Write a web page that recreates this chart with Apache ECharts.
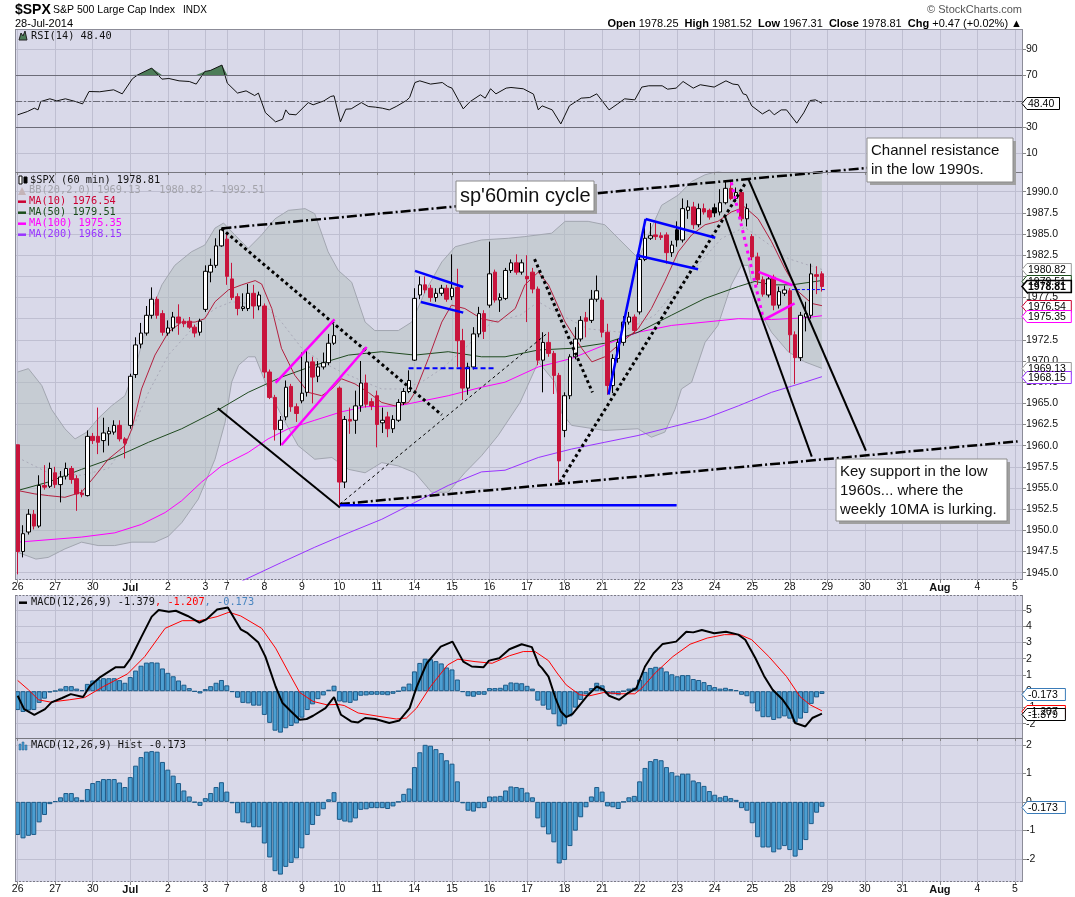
<!DOCTYPE html>
<html lang="en">
<head>
<meta charset="utf-8">
<title>$SPX 60 min</title>
<script src="https://cdn.jsdelivr.net/npm/echarts@6/dist/echarts.min.js"></script>
<style>
  html, body { margin: 0; padding: 0; background: #fff; }
  #chart { width: 1075px; height: 897px; }
</style>
</head>
<body>
<div id="chart"></div>
<script>
// ---- x axis: one slot per 60 min bar, day labels at first bar of each day
var dayStarts = [0, 7, 14, 21, 28, 35, 39, 46, 53, 60, 67, 74, 81, 88, 95, 102, 109, 116, 123, 130, 137, 144, 151, 158, 165, 172, 179, 186];
var dayLabels = ['26', '27', '30', 'Jul', '2', '3', '7', '8', '9', '10', '11', '14', '15', '16', '17', '18', '21', '22', '23', '24', '25', '28', '29', '30', '31', 'Aug', '4', '5'];

// ---- tick labels
var priceTicks = [1945, 1947.5, 1950, 1952.5, 1955, 1957.5, 1960, 1962.5, 1965, 1967.5, 1970, 1972.5, 1975, 1977.5, 1980, 1982.5, 1985, 1987.5, 1990];
var rsiTicks = [10, 30, 50, 70, 90];
var rsiLabels = [10, 30, 70, 90];
var macdTicks = [-2, -1, 0, 1, 2, 3, 4, 5];
var histTicks = [-2, -1, 0, 1, 2];

// ---- hourly candles [open, close, low, high]
var candles = [
  [1960.1,1947.5,1944.8,1960.1],[1947.5,1949.6,1946.8,1950.6],[1949.8,1951.9,1949.5,1952.5],[1951.9,1950.5,1950.1,1952.4],[1950.5,1955.3,1950.3,1956.5],[1955.3,1955.1,1954.8,1957.7],[1955.2,1957.3,1955.0,1958.0],
  [1956.8,1955.4,1955.0,1957.5],[1955.4,1956.3,1953.3,1957.0],[1956.4,1957.3,1956.0,1958.0],[1957.3,1956.0,1955.5,1957.6],[1956.1,1954.3,1952.3,1956.5],[1954.4,1954.2,1953.9,1954.8],[1954.1,1961.1,1954.0,1961.8],
  [1961.1,1960.6,1960.2,1961.5],[1961.1,1960.4,1959.0,1964.5],[1960.6,1961.5,1959.2,1963.3],[1961.4,1961.7,1960.0,1962.2],[1961.6,1962.4,1961.3,1963.0],[1962.4,1960.8,1960.5,1963.0],[1960.8,1960.3,1958.5,1961.0],
  [1962.4,1968.2,1962.0,1968.5],[1968.4,1971.9,1968.0,1972.8],[1972.0,1973.3,1971.5,1974.5],[1973.3,1975.4,1973.0,1976.5],[1975.4,1977.3,1975.0,1978.7],[1977.3,1975.4,1975.0,1977.6],[1975.6,1973.4,1973.0,1976.0],
  [1973.3,1973.9,1973.0,1974.8],[1973.9,1975.2,1973.5,1975.8],[1975.2,1974.5,1973.1,1976.7],[1974.7,1974.4,1974.0,1975.0],[1974.7,1974.0,1973.8,1975.2],[1974.0,1973.3,1972.8,1974.3],[1973.4,1974.7,1973.0,1975.0],
  [1976.1,1980.6,1975.8,1981.3],[1980.5,1981.3,1979.3,1982.1],[1981.3,1983.6,1981.0,1984.5],[1983.6,1985.5,1983.5,1985.6],
  [1984.4,1980.0,1979.0,1985.0],[1979.7,1977.5,1977.2,1981.6],[1977.6,1976.2,1975.4,1978.0],[1976.2,1976.4,1975.9,1978.0],[1976.2,1978.0,1975.9,1979.1],[1978.0,1976.5,1975.0,1979.0],[1976.5,1977.8,1976.0,1978.2],
  [1976.5,1968.7,1968.0,1976.8],[1968.7,1965.7,1965.5,1969.0],[1965.7,1961.9,1960.6,1966.0],[1961.9,1963.0,1960.0,1963.5],[1963.4,1966.9,1963.0,1967.7],[1967.0,1964.6,1964.0,1967.3],[1964.6,1963.8,1962.8,1965.0],
  [1965.3,1966.2,1965.0,1971.0],[1966.3,1969.9,1965.8,1971.2],[1969.9,1968.1,1965.0,1970.5],[1968.2,1969.3,1967.5,1970.0],[1969.3,1969.8,1969.0,1971.0],[1969.8,1972.1,1969.5,1973.2],[1972.1,1973.0,1971.9,1974.4],
  [1966.8,1955.7,1952.9,1967.0],[1955.7,1963.1,1955.0,1963.5],[1963.1,1962.9,1961.4,1964.5],[1963.0,1964.7,1961.4,1966.5],[1964.7,1967.4,1964.0,1970.0],[1967.4,1964.9,1964.5,1968.4],[1965.2,1964.7,1964.2,1965.6],
  [1965.9,1962.5,1959.8,1966.5],[1962.7,1963.0,1961.5,1964.5],[1963.4,1962.0,1961.0,1964.0],[1962.0,1963.1,1961.5,1963.6],[1963.0,1965.1,1962.8,1965.5],[1965.1,1966.4,1964.8,1966.8],[1966.4,1967.7,1966.2,1968.9],
  [1970.1,1977.4,1970.0,1978.6],[1977.8,1979.0,1977.3,1980.0],[1979.0,1978.4,1978.0,1980.0],[1978.6,1977.5,1977.0,1979.0],[1977.5,1978.0,1977.0,1978.6],[1978.0,1978.6,1977.7,1979.0],[1978.6,1977.3,1977.0,1979.0],
  [1977.6,1978.6,1977.2,1982.6],[1978.7,1972.4,1969.3,1980.9],[1972.4,1966.8,1965.4,1973.8],[1966.8,1969.3,1966.0,1969.8],[1969.3,1973.2,1969.0,1974.0],[1973.2,1975.6,1972.8,1976.4],[1975.6,1973.5,1972.6,1976.0],
  [1976.6,1980.3,1976.3,1984.1],[1980.5,1977.2,1976.9,1980.8],[1977.2,1977.5,1975.8,1978.0],[1977.4,1980.7,1977.2,1981.0],[1980.7,1981.6,1980.4,1982.0],[1981.6,1980.5,1980.2,1982.6],[1980.5,1981.6,1980.2,1982.0],
  [1980.0,1979.7,1974.6,1982.5],[1980.5,1978.5,1978.0,1981.0],[1978.5,1970.1,1969.5,1978.8],[1970.1,1972.2,1966.3,1973.4],[1972.2,1970.9,1970.5,1973.4],[1970.9,1968.3,1966.1,1971.2],[1968.3,1958.2,1955.7,1968.6],
  [1961.8,1965.9,1961.0,1966.3],[1965.9,1970.5,1965.5,1970.8],[1970.5,1972.6,1970.2,1974.0],[1972.6,1974.8,1972.3,1975.3],[1975.1,1974.7,1972.8,1975.8],[1974.8,1977.3,1974.5,1978.4],[1977.3,1978.3,1977.0,1980.1],
  [1977.2,1973.4,1972.8,1977.5],[1973.4,1967.1,1966.0,1974.4],[1967.1,1970.3,1966.2,1970.8],[1970.3,1972.2,1969.8,1972.6],[1972.2,1974.6,1971.8,1975.3],[1974.6,1975.2,1974.3,1975.8],[1975.2,1973.6,1973.2,1975.5],
  [1975.8,1982.0,1975.5,1982.6],[1982.0,1984.5,1981.8,1986.6],[1984.5,1984.8,1984.3,1986.3],[1984.9,1984.7,1984.3,1986.3],[1984.8,1984.6,1984.3,1985.2],[1984.9,1982.8,1981.5,1985.2],[1982.8,1983.7,1982.3,1984.2],
  [1985.5,1984.3,1983.5,1986.5],[1984.3,1988.0,1984.0,1989.2],[1987.8,1988.2,1986.8,1989.0],[1988.2,1986.1,1985.6,1988.8],[1986.1,1988.0,1985.8,1988.6],[1988.0,1987.6,1987.3,1988.6],[1987.8,1987.0,1986.7,1988.0],
  [1988.1,1987.5,1987.0,1988.6],[1987.6,1988.7,1987.2,1990.3],[1988.7,1990.4,1988.5,1991.2],[1990.4,1989.2,1989.0,1991.4],[1989.2,1989.9,1988.8,1990.5],[1989.9,1986.8,1986.5,1990.2],[1986.8,1988.0,1985.9,1988.6],
  [1984.7,1982.3,1981.9,1985.0],[1982.3,1979.6,1979.0,1982.8],[1979.6,1977.9,1977.6,1980.0],[1977.8,1979.7,1977.5,1980.0],[1979.9,1976.6,1976.0,1980.2],[1976.6,1978.2,1976.2,1978.8],[1978.0,1978.4,1977.7,1978.9],
  [1978.3,1973.1,1971.0,1978.6],[1973.1,1970.4,1967.3,1973.5],[1970.4,1975.4,1970.0,1975.8],[1975.2,1975.6,1973.5,1977.0],[1975.4,1980.3,1975.0,1981.5],[1980.2,1980.0,1977.9,1981.2],[1980.3,1978.8,1978.2,1980.6]
];

// ---- overlays, [bar, value]
var ma10 = [[0,1954.7],[3.2,1954.3],[5.7,1954.1],[8.8,1953.9],[11.9,1954.5],[14.4,1956.4],[16.9,1958.4],[20,1960.0],[21.3,1962.0],[23.1,1966.7],[25.6,1970.7],[28.1,1973.4],[30.6,1974.6],[33.1,1974.6],[34.9,1975.0],[36.8,1977.0],[39.3,1978.4],[41.8,1979.0],[44.3,1979.5],[45.5,1979.1],[47.4,1976.2],[49.2,1971.5],[51.7,1968.3],[54.2,1966.3],[56.7,1965.9],[58.6,1966.7],[60.4,1967.9],[62.9,1967.3],[65.4,1966.3],[67.9,1965.1],[70.4,1964.7],[72.9,1965.1],[74.1,1966.3],[76.6,1970.3],[79.1,1974.6],[80.9,1976.6],[83.4,1976.2],[86.5,1975.0],[89.6,1974.6],[92.8,1976.2],[94.6,1979.0],[97.1,1980.5],[99,1979.0],[102.1,1974.6],[105.2,1971.5],[107.1,1969.9],[109.5,1970.5],[112.6,1972.2],[115.7,1973.8],[118.2,1976.2],[120.7,1979.4],[123.2,1982.9],[125.7,1984.9],[128.2,1986.1],[130.6,1986.5],[133.1,1987.6],[135.6,1988.2],[138.1,1986.8],[140.6,1984.1],[143.1,1980.9],[145.6,1978.2],[148.1,1976.8],[150,1976.54]];
var ma50 = [[0,1954.7],[5.7,1955.7],[11.9,1957.2],[18.1,1958.6],[24.4,1960.4],[30.6,1962.0],[36.8,1964.0],[43,1966.3],[49.2,1968.1],[55.4,1969.5],[61.7,1970.7],[67.9,1971.1],[74.1,1970.7],[80.3,1971.1],[86.5,1970.5],[90.9,1970.5],[97.1,1971.3],[103.3,1971.5],[109.5,1972.1],[115.7,1973.4],[121.9,1975.4],[128.2,1977.4],[134.4,1978.8],[137.5,1979.4],[140.6,1979.0],[144.4,1979.0],[150,1979.51]];
var ma100 = [[0,1948.6],[11.9,1949.2],[18.1,1949.7],[23.1,1950.7],[27.5,1952.1],[30.6,1953.5],[34.3,1955.7],[38,1957.6],[43,1959.2],[46.7,1960.8],[50.5,1962.0],[55.4,1963.0],[60.4,1964.0],[64.8,1964.6],[71,1964.7],[74.1,1965.1],[80.3,1965.9],[86.5,1966.9],[90.9,1967.5],[97.1,1969.3],[103.3,1970.3],[109.5,1971.9],[115.7,1973.4],[121.9,1974.2],[128.2,1974.6],[134.4,1975.0],[140.6,1974.9],[146.8,1975.1],[150,1975.35]];
var ma200 = [[41.8,1944.0],[49.2,1946.2],[55.4,1948.0],[61.7,1949.7],[67.9,1951.3],[74.1,1953.3],[80.3,1955.3],[86.5,1956.9],[90.9,1957.1],[97.1,1958.6],[103.3,1959.6],[109.5,1960.4],[115.7,1961.2],[121.9,1962.2],[128.2,1963.2],[134.4,1964.7],[140.6,1966.3],[146.8,1967.5],[150,1968.15]];
var bbUpper = [[0,1968.7],[2,1969.1],[4.5,1967.1],[6.3,1964.3],[8.8,1962.0],[10.7,1960.8],[12.9,1961.6],[15,1963.2],[17.5,1964.7],[20,1965.9],[21.9,1969.1],[24.4,1975.0],[26.9,1979.0],[29.3,1981.3],[32.4,1982.9],[34.9,1983.7],[36.8,1985.7],[38.4,1986.3],[40.5,1984.9],[43,1983.3],[45.5,1984.9],[48,1986.8],[50.5,1987.8],[53.6,1988.0],[55.4,1987.4],[57.9,1982.9],[59.8,1980.7],[62.3,1979.3],[64.8,1974.6],[66.6,1973.6],[71,1973.6],[73.5,1974.6],[76,1978.2],[79.1,1981.7],[81.6,1983.5],[86.5,1984.3],[91.5,1984.5],[94.6,1984.7],[99.6,1985.1],[102.1,1986.5],[106.4,1986.5],[109.5,1986.1],[112,1984.5],[115.8,1982.1],[118.2,1985.7],[120.1,1988.4],[123.2,1989.6],[125.7,1991.2],[128.2,1992.0],[132,1992.6],[137,1992.8],[142,1992.8],[146,1992.7],[150,1992.51]];
var bbMid = [[0,1958.6],[5.7,1956.8],[11.9,1956.5],[16.9,1957.3],[20,1960.0],[24.4,1966.3],[28.1,1970.7],[33.1,1974.2],[36.8,1976.2],[39.9,1977.0],[43,1976.8],[46.7,1976.2],[49.2,1974.6],[53,1971.5],[56.7,1969.9],[60.4,1968.7],[64.8,1967.5],[67.9,1966.7],[71.6,1966.7],[75.3,1967.5],[79.1,1969.1],[83.4,1971.5],[88.4,1974.6],[93.7,1975.4],[97.1,1977.0],[101.4,1975.4],[106.4,1973.8],[112.6,1973.4],[118.8,1975.4],[125.1,1980.1],[131.3,1984.5],[135.6,1985.8],[139.4,1984.1],[143.7,1982.1],[150,1980.82]];
var bbLower = [[0,1947.4],[3.4,1946.6],[5.7,1946.8],[8.8,1947.8],[11.9,1948.6],[15,1948.2],[18.1,1948.2],[21.3,1948.6],[25.6,1948.6],[28.1,1949.3],[30.6,1950.9],[33.7,1953.7],[36.8,1958.4],[38.7,1962.8],[39.9,1967.5],[41.2,1969.5],[43,1970.5],[44.3,1970.5],[46.7,1966.7],[49.2,1963.6],[52.3,1960.0],[55.4,1958.4],[58.6,1958.6],[61.7,1957.2],[64.8,1956.8],[67.9,1958.0],[71,1957.6],[74.1,1956.8],[77.2,1954.5],[80.3,1954.5],[83.4,1956.8],[86.5,1958.8],[89.6,1961.2],[93.7,1965.1],[97.1,1969.9],[100.2,1967.5],[101.4,1963.9],[103.3,1962.4],[109.5,1961.8],[115.7,1962.0],[118.2,1961.0],[120.7,1961.6],[122.6,1964.3],[123.8,1966.7],[125.7,1967.5],[128.2,1972.2],[130.6,1974.2],[133.1,1979.0],[135,1981.3],[136.3,1981.3],[137.5,1977.0],[140.6,1973.4],[143.7,1971.1],[146.8,1969.9],[150,1969.13]];

// ---- RSI(14)
var rsi = [[0,39.5],[1.8,42],[3.1,44.6],[3.8,43.3],[4.3,49.7],[6,51.8],[7.3,50.2],[8.9,51.8],[10.8,49.7],[12.1,47.9],[13.3,57.4],[15.3,57.2],[17.9,58.7],[19.5,55.6],[21.4,67.2],[22.4,70.2],[25,75.4],[26.9,66.9],[28.2,67.4],[30.1,65.6],[32,65.1],[33.3,63.1],[34.9,72.8],[35.9,73.5],[38.1,77.7],[39.1,63.8],[41,56.2],[42.6,57.9],[44.2,54.3],[44.9,56.2],[46.2,41.2],[48.1,34.1],[49.4,36.1],[50,43.3],[50.6,40],[51.9,39.5],[54.2,48.9],[55.1,47.2],[57.1,50.2],[58.4,53.6],[59,54.1],[60.2,34.1],[61.2,43.8],[62.2,44.1],[64.1,48.9],[65.4,45.9],[66.7,45.4],[68,44.6],[69.3,43.3],[70.6,45.9],[72.5,50.5],[73.1,52.8],[74.1,64.3],[75,65.6],[77,63.1],[79.2,64.3],[80.2,61.3],[81,60],[83.1,44.1],[84.4,49.7],[86.3,54.9],[87.2,52.3],[88.2,59.5],[89.2,55.6],[91.1,60],[92,60.5],[94.3,59.5],[96.2,55.4],[97.1,43.3],[97.8,46.4],[99.7,43.3],[101.3,32.5],[102.9,46.4],[105.1,52.3],[106.7,52.8],[108,55.6],[110.3,43.3],[111.9,47.9],[113.2,51.8],[115.1,51],[116.4,60.8],[117.7,61.8],[120.2,61.8],[121.2,59.2],[122.8,60],[124.1,65.1],[126,60],[127.3,62.6],[129.9,60.8],[132.1,65.6],[133.4,63.1],[134.4,62.6],[135.3,55.6],[135.9,54.9],[136.9,46.4],[138.9,40.2],[140.2,43.3],[141.1,39.5],[142.4,43.3],[143.4,43.3],[145.3,33.1],[146.6,41],[147.8,50.5],[148.8,51],[150,48.4]];

// ---- MACD(12,26,9)
var macdLine = [[0,-0.28],[1.2,-1.1],[3.1,-1.45],[5.1,-1.1],[6.3,-0.69],[8.3,-0.42],[9.9,-0.18],[12.2,-0.36],[13.4,0.29],[15.4,0.87],[18.3,1.48],[19.9,1.48],[21.1,2.03],[23.1,3.36],[25,4.59],[26.3,5.0],[28.2,4.89],[29.5,4.95],[31.7,4.63],[33.9,4.22],[35.2,4.42],[37.2,5.03],[39.2,5.15],[41.6,3.81],[42.9,3.57],[44.9,2.99],[46.2,2.13],[48.1,0.29],[49.4,-0.73],[51,-1.25],[52.6,-1.76],[53.9,-1.71],[55.1,-1.51],[57.4,-1.04],[59,-0.36],[60.3,-1.45],[62.2,-1.86],[63.5,-1.92],[64.8,-1.65],[66.7,-1.71],[69.3,-1.96],[71.2,-1.8],[73.1,-1.04],[74.4,0.25],[76.3,1.72],[78.9,2.74],[81.1,3.05],[83.1,1.82],[84.7,1.52],[86.9,1.48],[87.9,1.88],[89.8,2.03],[91.7,2.58],[94,2.89],[95.9,2.71],[97.2,1.62],[97.8,1.42],[99,0.9],[100.3,-0.42],[101.3,-1.25],[102.3,-1.59],[103.5,-1.39],[106.1,-0.33],[108,0.29],[109.3,0.09],[110.3,-0.28],[112.2,-0.53],[113.8,-0.12],[115.4,0.19],[117,1.52],[118.6,2.34],[120.3,2.91],[122.8,3.05],[124.7,3.66],[126,3.62],[127.6,3.77],[129.9,3.57],[132.1,3.66],[134.4,3.48],[135.7,3.17],[137.6,2.03],[139.2,0.94],[140.8,0.09],[142.7,-0.53],[144,-1.14],[145,-1.96],[146.9,-2.17],[148.2,-1.65],[150,-1.379]];
var macdSignal = [[0,0.66],[2,0.09],[3.9,-0.53],[6.1,-0.67],[9.6,-0.53],[12.5,-0.39],[16,0.29],[20.5,1.07],[23.7,2.13],[27.5,3.87],[30.7,4.34],[33.9,4.34],[37.2,4.59],[39.4,4.86],[41.6,4.63],[45.5,3.87],[48.1,2.65],[50.6,1.12],[52.6,-0.08],[55.1,-0.63],[57.7,-0.84],[59.7,-0.81],[60.9,-0.88],[63.5,-1.34],[67.4,-1.55],[70.6,-1.71],[72.5,-1.65],[74.4,-1.04],[77,0.29],[80.2,1.62],[82.1,1.97],[85.3,1.82],[88.5,1.72],[91.7,2.18],[94.3,2.44],[96.5,2.44],[99,1.88],[100.6,1.12],[102.3,0.39],[104.8,-0.22],[106.7,-0.28],[109.3,-0.08],[112.5,-0.16],[115.1,-0.16],[116.4,0.19],[118.9,1.12],[122.2,2.13],[125.4,2.89],[128.6,3.27],[131.8,3.48],[134.7,3.48],[136.9,3.17],[140.1,2.13],[143.4,0.9],[145.9,-0.33],[147.8,-0.84],[150,-1.207]];
var macdHist = [-1.16,-1.28,-1.19,-1.16,-0.72,-0.46,-0.08,0.02,0.16,0.31,0.31,0.16,0.07,0.45,0.66,0.73,0.8,0.8,0.8,0.68,0.52,0.87,1.27,1.57,1.76,1.78,1.76,1.4,1.13,0.92,
  0.66,0.4,0.19,-0.02,-0.14,0.13,0.31,0.52,0.69,0.36,-0.05,-0.4,-0.72,-0.75,-0.89,-0.89,-1.46,-1.95,-2.43,-2.55,-2.28,-2.14,-1.98,-1.63,-1.16,-0.81,-0.49,-0.26,0.09,0.34,
  -0.63,-0.69,-0.72,-0.58,-0.28,-0.26,-0.22,-0.22,-0.22,-0.25,-0.16,0,0.28,0.47,1.22,1.74,2.0,1.97,1.85,1.71,1.46,1.34,0.72,-0.05,-0.31,-0.34,-0.22,-0.22,0.19,0.19,
  0.21,0.4,0.54,0.52,0.49,0.33,0.16,-0.58,-0.89,-1.14,-1.42,-2.16,-2.04,-1.55,-1.01,-0.54,-0.19,0.19,0.52,0.36,-0.16,-0.19,-0.25,0,0.16,0.21,0.72,1.19,1.43,1.5,
  1.46,1.22,1.04,0.92,0.99,0.99,0.75,0.69,0.56,0.38,0.25,0.16,0.21,0.13,0.07,-0.22,-0.31,-0.75,-1.24,-1.6,-1.6,-1.77,-1.67,-1.55,-1.69,-1.92,-1.69,-1.34,-0.78,-0.38,-0.173];

// ---- last values shown in the right-hand tags
var lastRsi = 48.40;
var lastBB = [1969.13, 1980.82, 1992.51];
var lastMA = {ma10: 1976.54, ma50: 1979.51, ma100: 1975.35, ma200: 1968.15};
var lastClose = 1978.81;
var lastMacd = [-1.379, -1.207, -0.173];

// ---- hand-drawn trend lines, [bar, price]
var channelTop = [[38.0, 1985.66], [175, 1993.8]];
var channelBottom = [[60.1, 1953.1], [186.5, 1960.5]];
var supportFlat = [[60.1, 1952.95], [122.9, 1952.95]];
var wedgeLow = [[37.3, 1964.42], [60.1, 1952.7]];
var wedgeHighDots = [[38.0, 1985.66], [79.1, 1963.63]];
var thinRise = [[60.1, 1953.1], [99, 1973.4]];
var jul17Dots = [[96.4, 1982.03], [107.2, 1966.3]];
var riseDots = [[101.1, 1955.66], [135.9, 1991.19]];
var blueRise = [[110.2, 1966.04], [117.1, 1986.77]];
var blueFlagTop = [[117.1, 1986.77], [130.1, 1984.56]];
var blueFlagBottom = [[115.4, 1982.5], [126.9, 1980.85]];
var julFlagTop = [[74.1, 1980.65], [83.1, 1978.75]];
var julFlagBottom = [[75.2, 1976.98], [83.1, 1975.72]];
var blueDashed = [[72.9, 1969.16], [89, 1969.16]];
var pinkTop = [[48.1, 1967.42], [59.1, 1974.92]];
var pinkBottom = [[49.2, 1960.08], [65.1, 1971.65]];
var pennantTop = [[138.2, 1980.53], [144.5, 1978.95]];
var pennantBottom = [[139.2, 1974.9], [144.9, 1976.8]];
var pinkDots = [[133.1, 1991.1], [139.0, 1975.2]];
var downA = [[131.9, 1987.1], [148.1, 1958.7]];
var downB = [[136.3, 1991.47], [158.2, 1959.4]];
var closeDash = [[144.4, 1978.44], [150.9, 1978.44]];

var BG = '#d9d9e9', GRIDC = '#bfbfd1', BORDER = '#8c8c98';
var UPC = '#000000', DNC = '#c8143c';
var PRICE_MIN = 1944.13, PRICE_MAX = 1992.33;
var PANELS = [[29, 143], [172, 408], [595, 143], [738, 144]];   // top, height
var LEFT = 15, WIDTH = 1008;

var chart = echarts.init(document.getElementById('chart'));

function dayLabel(v) {
    var k = dayStarts.indexOf(Math.round(v));
    if (k < 0) return '';
    var t = dayLabels[k];
    return (t === 'Jul' || t === 'Aug') ? '{b|' + t + '}' : t;
}

function xAxisFor(g, labels) {
    return {
        type: 'value', gridIndex: g, min: -0.5, max: 187.5,
        axisLine: {show: false, onZero: false},
        axisTick: {show: true, customValues: dayStarts, length: 3, lineStyle: {color: '#888'}},
        axisLabel: {show: labels, customValues: dayStarts, formatter: dayLabel, margin: 2,
            color: '#111', fontFamily: 'Liberation Sans', fontSize: 10.5,
            rich: {b: {fontWeight: 'bold', fontFamily: 'Liberation Sans', fontSize: 11, color: '#111'}}},
        splitLine: {show: true, lineStyle: {color: GRIDC, width: 1}}
    };
}

function yAxisFor(g, min, max, ticks, labels, fmt) {
    return {
        type: 'value', gridIndex: g, position: 'right', min: min, max: max,
        axisLine: {show: false, onZero: false},
        axisTick: {show: true, customValues: ticks, length: 3, lineStyle: {color: '#888'}},
        axisLabel: {customValues: labels, formatter: fmt, margin: 3, color: '#111',
            fontFamily: 'Liberation Sans', fontSize: 10.5},
        splitLine: {show: true, lineStyle: {color: GRIDC, width: 1}}
    };
}

function lineSeries(g, data, color, width, type, z) {
    return {type: 'line', xAxisIndex: g, yAxisIndex: g, data: data, symbol: 'none',
        lineStyle: {color: color, width: width, type: type || 'solid'}, silent: true, z: z || 3};
}

function drawn(data, color, width, type) {
    var s = lineSeries(1, data, color, width, type, 8);
    s.clip = false;
    s.lineStyle.cap = 'butt';
    return s;
}

function candleStyle(i) {
    var d = candles[i];
    var prev = i > 0 ? candles[i - 1][1] : Infinity;
    var col = d[1] >= prev ? UPC : DNC;
    var fill = d[1] < d[0] ? col : '#ffffff';
    return {color: fill, color0: fill, borderColor: col, borderColor0: col, borderColorDoji: col, borderWidth: 1};
}

var candleData = candles.map(function (d, i) {
    return {value: [i, d[0], d[1], d[2], d[3]], itemStyle: candleStyle(i)};
});
var histData = macdHist.map(function (v, i) { return [i, v]; });

var series = [];
// RSI panel
series.push({type: 'line', xAxisIndex: 0, yAxisIndex: 0, data: rsi, symbol: 'none',
    lineStyle: {color: '#111', width: 1}, silent: true, z: 3,
    markLine: {silent: true, symbol: 'none', label: {show: false}, animation: false, data: [
        {yAxis: 70, lineStyle: {color: '#6c6c78', width: 1, type: 'solid'}},
        {yAxis: 30, lineStyle: {color: '#6c6c78', width: 1, type: 'solid'}},
        {yAxis: 50, lineStyle: {color: '#6c6c78', width: 1, type: [7, 2, 2, 2]}}
    ]}});

// price panel
series.push(lineSeries(1, bbUpper, '#a2a6b0', 1, 'solid', 2));
series.push(lineSeries(1, bbLower, '#a2a6b0', 1, 'solid', 2));
series.push(lineSeries(1, bbMid, '#a9a9b8', 1, [2, 3], 2));
series.push(lineSeries(1, ma200, '#9933ff', 1, 'solid', 3));
series.push(lineSeries(1, ma100, '#ff00ff', 1, 'solid', 3));
series.push(lineSeries(1, ma50, '#1f4a1f', 1, 'solid', 3));
series.push(lineSeries(1, ma10, '#b3203f', 1, 'solid', 3));
series.push({type: 'candlestick', xAxisIndex: 1, yAxisIndex: 1, data: candleData, barWidth: 4,
    encode: {x: 0, y: [1, 2, 3, 4]}, silent: true, z: 5});

// hand-drawn annotations
var dashDot = [10, 3, 2, 3];
series.push(drawn(channelTop, '#000', 2.5, dashDot));
series.push(drawn(channelBottom, '#000', 2.5, dashDot));
series.push(drawn(supportFlat, '#0000ff', 2.5));
series.push(drawn(wedgeLow, '#000', 2));
series.push(drawn(wedgeHighDots, '#000', 3, [3, 3]));
series.push(drawn(thinRise, '#000', 1, [3, 3]));
series.push(drawn(jul17Dots, '#000', 3, [3, 3]));
series.push(drawn(riseDots, '#000', 3, [3, 3]));
series.push(drawn(blueRise, '#0000ff', 2.5));
series.push(drawn(blueFlagTop, '#0000ff', 2.5));
series.push(drawn(blueFlagBottom, '#0000ff', 2.5));
series.push(drawn(julFlagTop, '#0000ff', 2.5));
series.push(drawn(julFlagBottom, '#0000ff', 2.5));
series.push(drawn(blueDashed, '#0000ff', 2, [5, 3]));
series.push(drawn(pinkTop, '#ff00ff', 2.5));
series.push(drawn(pinkBottom, '#ff00ff', 2.5));
series.push(drawn(pennantTop, '#ff00ff', 2.5));
series.push(drawn(pennantBottom, '#ff00ff', 2.5));
series.push(drawn(pinkDots, '#ff00ff', 3, [3, 4]));
series.push(drawn(downA, '#000', 2));
series.push(drawn(downB, '#000', 2));
series.push(drawn(closeDash, '#0000ff', 1, [3, 2]));

// MACD panel
var histStyle = {color: '#4c9fd2', borderColor: '#1c5a88', borderWidth: 1};
series.push({type: 'bar', xAxisIndex: 2, yAxisIndex: 2, data: histData, barWidth: 5, itemStyle: histStyle, silent: true, z: 2});
series.push(lineSeries(2, macdSignal, '#ff0000', 1, 'solid', 3));
series.push(lineSeries(2, macdLine, '#000000', 2, 'solid', 4));
// histogram panel
series.push({type: 'bar', xAxisIndex: 3, yAxisIndex: 3, data: histData, barWidth: 5, itemStyle: histStyle, silent: true, z: 2});

chart.setOption({
    animation: false,
    backgroundColor: '#ffffff',
    grid: PANELS.map(function (p) {
        return {left: LEFT, width: WIDTH, top: p[0], height: p[1], show: true, backgroundColor: BG, borderWidth: 0};
    }),
    xAxis: [xAxisFor(0, false), xAxisFor(1, true), xAxisFor(2, false), xAxisFor(3, true)],
    yAxis: [
        yAxisFor(0, -4.4, 105.4, rsiTicks, rsiLabels, function (v) { return String(v); }),
        yAxisFor(1, PRICE_MIN, PRICE_MAX, priceTicks, priceTicks, function (v) { return v.toFixed(1); }),
        yAxisFor(2, -2.88, 5.92, macdTicks, macdTicks, function (v) { return String(v); }),
        yAxisFor(3, -2.81, 2.24, histTicks, histTicks, function (v) { return String(v); })
    ],
    series: series
});

// ---- fills, frames, texts, annotation boxes and value tags
var els = [];
function px(g, p) { return chart.convertToPixel({gridIndex: g}, p); }

// Bollinger band area (upper edge forward, lower edge back), kept inside the panel
var bandPts = bbUpper.map(function (p) { return px(1, [p[0], Math.min(p[1], PRICE_MAX)]); });
for (var k = bbLower.length - 1; k >= 0; k--) bandPts.push(px(1, [bbLower[k][0], Math.max(bbLower[k][1], PRICE_MIN)]));
els.push({type: 'polygon', z: 1, silent: true, shape: {points: bandPts}, style: {fill: 'rgba(178,190,188,0.48)'}});

// RSI above 70 shaded
var y70 = px(0, [0, 70])[1];
var rsiPts = rsi.map(function (p) { var q = px(0, p); return [q[0], Math.min(q[1], y70)]; });
rsiPts.push([rsiPts[rsiPts.length - 1][0], y70], [rsiPts[0][0], y70]);
els.push({type: 'polygon', z: 1, silent: true, shape: {points: rsiPts}, style: {fill: '#4d7d58'}});

// panel frames: solid sides, dotted edges next to the date rows
function seg(x1, y1, x2, y2, color, dash) {
    els.push({type: 'line', z: 90, silent: true, shape: {x1: x1, y1: y1, x2: x2, y2: y2},
        style: {stroke: color, lineWidth: 1, lineDash: dash || null}});
}
var xl = LEFT + 0.5, xr = LEFT + WIDTH - 0.5;
PANELS.forEach(function (p) {
    seg(xl, p[0], xl, p[0] + p[1], BORDER);
    seg(xr, p[0], xr, p[0] + p[1], BORDER);
});
seg(xl, 29.5, xr, 29.5, BORDER);
seg(xl, 172.5, xr, 172.5, '#77777f');
seg(xl, 579.5, xr, 579.5, '#7a7a86', [2, 1.5]);
seg(xl, 595.5, xr, 595.5, '#7a7a86', [2, 1.5]);
seg(xl, 738.5, xr, 738.5, '#77777f');
seg(xl, 881.5, xr, 881.5, '#7a7a86', [2, 1.5]);

function text(x, y, str, font, fill, align, rich) {
    var st = {text: str, font: font, fill: fill || '#000', align: align || 'left', verticalAlign: 'middle'};
    if (rich) st.rich = rich;
    els.push({type: 'text', x: x, y: y, z: 100, style: st});
}
function box(x, y, w, h, lines, font, lineH, padX) {
    els.push({type: 'rect', z: 100, shape: {x: x + 3, y: y + 3, width: w, height: h}, style: {fill: '#a0a0a0'}});
    els.push({type: 'rect', z: 100, shape: {x: x, y: y, width: w, height: h}, style: {fill: '#ffffff', stroke: '#8a8a8a', lineWidth: 1}});
    lines.forEach(function (s, k) {
        els.push({type: 'text', z: 101, x: x + padX, y: y + lineH / 2 + 3 + k * lineH,
            style: {text: s, font: font, fill: '#111', verticalAlign: 'middle'}});
    });
}
function legIcon(x, y, color, w) {
    els.push({type: 'line', z: 100, shape: {x1: x, y1: y, x2: x + 8, y2: y}, style: {stroke: color, lineWidth: w || 2.5}});
}
function tag(g, v, str, color, bold) {
    var y = Math.round(px(g, [0, v])[1]) + 0.5;
    var w = str.length * 5.9 + 8;
    els.push({type: 'group', x: 1022, y: y, z: 110, children: [
        {type: 'polygon', z: 110, shape: {points: [[0, 0], [5, -6], [w, -6], [w, 6], [5, 6]]},
            style: {fill: '#ffffff', stroke: color, lineWidth: bold ? 1.6 : 1}},
        {type: 'text', z: 111, x: 6, y: 0.5, style: {text: str, fill: '#000', verticalAlign: 'middle',
            font: (bold ? 'bold ' : '') + '10.5px "Liberation Sans"'}}
    ]});
}

var sans = '"Liberation Sans", Arial, sans-serif';
var mono = '"DejaVu Sans Mono", monospace';
text(15, 10, '$SPX', 'bold 14px ' + sans);
text(53, 10.5, 'S&P 500 Large Cap Index', '10.5px ' + sans);
text(183, 10.5, 'INDX', '10px ' + sans);
text(15, 23.5, '28-Jul-2014', '11px ' + sans);
text(1022, 10, '\u00a9 StockCharts.com', '11px ' + sans, '#555', 'right');
text(1022, 23.5, '{b|Open} 1978.25  {b|High} 1981.52  {b|Low} 1967.31  {b|Close} 1978.81  {b|Chg} +0.47 (+0.02%) \u25B2',
    '11px ' + sans, '#000', 'right', {b: {font: 'bold 11px ' + sans}});

// panel legends
els.push({type: 'polygon', z: 100, shape: {points: [[19, 40], [21, 33], [23, 36], [25, 31], [27, 40]]},
    style: {fill: '#4d7d58', stroke: '#222', lineWidth: 1}});
text(31, 36, 'RSI(14) 48.40', '10.3px ' + mono, '#111');
els.push({type: 'rect', z: 100, shape: {x: 19, y: 176, width: 3, height: 8}, style: {fill: '#fff', stroke: '#000', lineWidth: 1}});
els.push({type: 'rect', z: 100, shape: {x: 24, y: 177, width: 3, height: 6}, style: {fill: '#000', stroke: '#000', lineWidth: 1}});
text(30, 180, '$SPX (60 min) 1978.81', '10.3px ' + mono, '#111');
els.push({type: 'polygon', z: 100, shape: {points: [[18, 195], [22, 187], [26, 195]]}, style: {fill: '#c4b4b8'}});
text(29, 190.7, 'BB(20,2.0) 1969.13 - 1980.82 - 1992.51', '10.3px ' + mono, '#a3a3aa');
legIcon(18, 201.7, '#cc0033'); text(29, 201.7, 'MA(10) 1976.54', '10.3px ' + mono, '#cc0033');
legIcon(18, 212.7, '#1a4d1a'); text(29, 212.7, 'MA(50) 1979.51', '10.3px ' + mono, '#1a4d1a');
legIcon(18, 223.7, '#ff00ff'); text(29, 223.7, 'MA(100) 1975.35', '10.3px ' + mono, '#ff00ff');
legIcon(18, 234.7, '#9933ff'); text(29, 234.7, 'MA(200) 1968.15', '10.3px ' + mono, '#9933ff');
legIcon(19, 602.7, '#000');
text(31, 602.7, '{k|MACD(12,26,9) -1.379}{r|, -1.207}{c|, -0.173}', '10.3px ' + mono, '#111', 'left',
    {k: {font: '10.3px ' + mono, fill: '#111'}, r: {font: '10.3px ' + mono, fill: '#ff0000'}, c: {font: '10.3px ' + mono, fill: '#4a86c0'}});
[[19, 6], [22, 8], [25, 5]].forEach(function (b) {
    els.push({type: 'rect', z: 100, shape: {x: b[0], y: 750 - b[1], width: 2, height: b[1]}, style: {fill: '#4c9fd2', stroke: '#1c5a88', lineWidth: 0.5}});
});
text(31, 745.3, 'MACD(12,26,9) Hist -0.173', '10.3px ' + mono, '#111');

// annotation boxes
box(456, 181, 138, 30, ["sp'60min cycle"], '20px ' + sans, 24, 4);
box(867, 138, 146, 44, ['Channel resistance', 'in the low 1990s.'], '15px ' + sans, 19, 4);
box(836, 459, 171, 62, ['Key support in the low', '1960s... where the', 'weekly 10MA is lurking.'], '15px ' + sans, 19, 4);

// right-hand value tags
tag(0, lastRsi, lastRsi.toFixed(2), '#000');
tag(1, lastBB[1], lastBB[1].toFixed(2), '#9a9a9a');
tag(1, lastMA.ma50, lastMA.ma50.toFixed(2), '#1a4d1a');
tag(1, lastMA.ma10, lastMA.ma10.toFixed(2), '#cc0033');
tag(1, lastMA.ma100, lastMA.ma100.toFixed(2), '#ff00ff');
tag(1, lastBB[0], lastBB[0].toFixed(2), '#9a9a9a');
tag(1, lastMA.ma200, lastMA.ma200.toFixed(2), '#9933ff');
tag(1, lastClose, lastClose.toFixed(2), '#000', true);
tag(2, lastMacd[2], lastMacd[2].toFixed(3), '#3a7bb8');
tag(2, lastMacd[1], lastMacd[1].toFixed(3), '#ff0000');
tag(2, lastMacd[0], lastMacd[0].toFixed(3), '#000');
tag(3, lastMacd[2], lastMacd[2].toFixed(3), '#3a7bb8');

chart.setOption({graphic: {elements: els}});
</script>
</body>
</html>
